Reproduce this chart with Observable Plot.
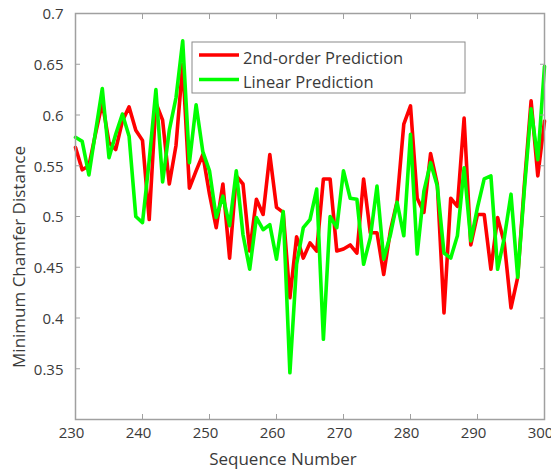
<!DOCTYPE html>
<html>
<head>
<meta charset="utf-8">
<script src="https://cdn.jsdelivr.net/npm/d3@7"></script>
<script src="https://cdn.jsdelivr.net/npm/@observablehq/plot@0.6"></script>
<style>
  html, body { margin: 0; padding: 0; background: #fff; }
  #chart { width: 551px; height: 470px; }
</style>
</head>
<body>
<div id="chart"></div>
<script>
// ---- data ----
const seqStart = 230;
const secondOrder = [
  0.568, 0.546, 0.550, 0.582, 0.612, 0.573, 0.566, 0.594, 0.608, 0.585,
  0.575, 0.497, 0.612, 0.595, 0.532, 0.570, 0.650, 0.528, 0.545, 0.561,
  0.522, 0.489, 0.532, 0.459, 0.540, 0.532, 0.466, 0.517, 0.502, 0.561,
  0.509, 0.504, 0.420, 0.480, 0.459, 0.474, 0.466, 0.537, 0.537, 0.466,
  0.468, 0.472, 0.464, 0.537, 0.484, 0.484, 0.443, 0.486, 0.515, 0.591,
  0.609, 0.518, 0.504, 0.562, 0.532, 0.405, 0.518, 0.510, 0.597, 0.472,
  0.502, 0.502, 0.448, 0.499, 0.474, 0.410, 0.440, 0.532, 0.614, 0.540,
  0.594
];
const linear = [
  0.578, 0.574, 0.541, 0.584, 0.626, 0.558, 0.581, 0.601, 0.579, 0.500,
  0.494, 0.555, 0.625, 0.534, 0.585, 0.617, 0.673, 0.553, 0.610, 0.564,
  0.545, 0.499, 0.520, 0.491, 0.545, 0.482, 0.448, 0.499, 0.487, 0.492,
  0.458, 0.505, 0.346, 0.453, 0.489, 0.497, 0.527, 0.379, 0.500, 0.489,
  0.545, 0.518, 0.517, 0.453, 0.479, 0.530, 0.458, 0.482, 0.514, 0.481,
  0.581, 0.463, 0.525, 0.553, 0.530, 0.464, 0.459, 0.481, 0.548, 0.476,
  0.509, 0.537, 0.540, 0.448, 0.479, 0.522, 0.440, 0.527, 0.606, 0.556,
  0.648
];
const seriesNames = ["2nd-order Prediction", "Linear Prediction"];
const seriesColors = ["#ff0000", "#00ff00"];
const xTicks = [230, 240, 250, 260, 270, 280, 290, 300];
const yTicks = [0.35, 0.4, 0.45, 0.5, 0.55, 0.6, 0.65, 0.7];
const xLabel = "Sequence Number";
const yLabel = "Minimum Chamfer Distance";

const rows = secondOrder.map((v, i) => ({seq: seqStart + i, a: v, b: linear[i]}));

const font = "'Open Sans', 'Noto Sans', sans-serif";
const axisColor = "#a0a0a0";

const plot = Plot.plot({
  width: 551,
  height: 470,
  marginLeft: 75,
  marginRight: 7,
  marginTop: 13,
  marginBottom: 51,
  style: {fontFamily: font, fontSize: "15px", color: "#3a3a3a", background: "#fff", overflow: "visible"},
  x: {domain: [230, 300]},
  y: {domain: [0.3, 0.7]},
  marks: [
    Plot.line(rows, {x: "seq", y: "a", stroke: seriesColors[0], strokeWidth: 3.6}),
    Plot.line(rows, {x: "seq", y: "b", stroke: seriesColors[1], strokeWidth: 3.6}),
    Plot.frame({stroke: axisColor, strokeWidth: 1.5}),
    Plot.axisX({ticks: xTicks, tickSize: -5, text: null, label: null, stroke: axisColor}),
    Plot.axisX({anchor: "top", ticks: xTicks, tickSize: -5, text: null, label: null, stroke: axisColor}),
    Plot.axisX({ticks: xTicks, tickSize: 0, tickPadding: 8, dx: -4, label: null, tickFormat: d => String(d)}),
    Plot.axisY({ticks: yTicks, tickSize: -5, text: null, label: null, stroke: axisColor}),
    Plot.axisY({anchor: "right", ticks: yTicks, tickSize: -5, text: null, label: null, stroke: axisColor}),
    Plot.axisY({ticks: yTicks, tickSize: 0, tickPadding: 12, dy: 1, label: null, tickFormat: d => String(d)})
  ]
});

document.getElementById("chart").appendChild(plot);

// axis titles and legend
const svg = d3.select(plot);
svg.append("text")
  .attr("x", 283).attr("y", 465)
  .attr("text-anchor", "middle")
  .attr("font-family", font).attr("font-size", 17).attr("fill", "#3a3a3a")
  .text(xLabel);
svg.append("text")
  .attr("transform", "translate(25,257) rotate(-90)")
  .attr("text-anchor", "middle")
  .attr("font-family", font).attr("font-size", 17).attr("fill", "#3a3a3a")
  .text(yLabel);

const lg = svg.append("g").attr("text-anchor", "start");
lg.append("rect")
  .attr("x", 192).attr("y", 42).attr("width", 273).attr("height", 51)
  .attr("fill", "#fff").attr("stroke", "#8a8a8a").attr("stroke-width", 1);
seriesNames.forEach((name, i) => {
  const yy = 55 + i * 24.5;
  lg.append("line")
    .attr("x1", 199).attr("x2", 239).attr("y1", yy).attr("y2", yy)
    .attr("stroke", seriesColors[i]).attr("stroke-width", 3.6);
  lg.append("text")
    .attr("x", 243).attr("y", yy + 8.5)
    .attr("text-anchor", "start")
    .attr("font-family", font).attr("font-size", 16.5).attr("fill", "#3a3a3a")
    .text(name);
});
</script>
</body>
</html>
